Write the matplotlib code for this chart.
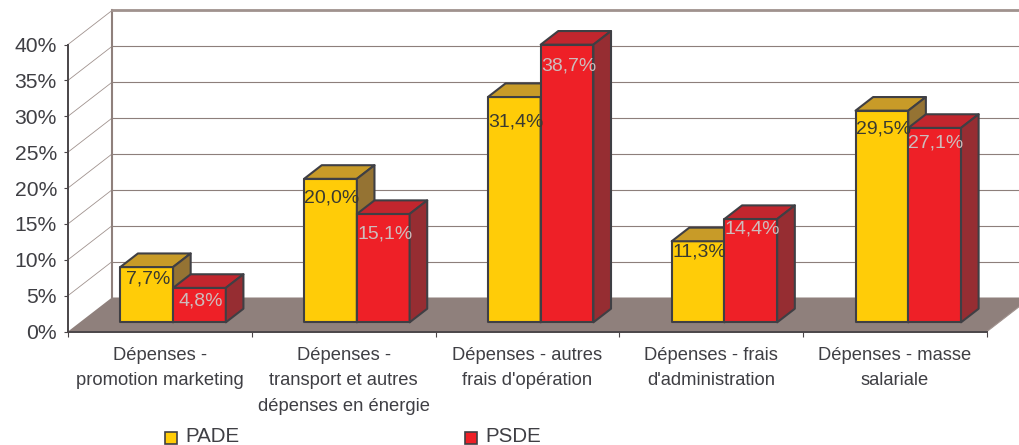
import matplotlib
matplotlib.use("Agg")
import matplotlib.pyplot as plt
from matplotlib.patches import Polygon, Rectangle

plt.rcParams["font.family"] = ["Liberation Sans", "DejaVu Sans"]

categories = [
    "Dépenses -\npromotion marketing",
    "Dépenses -\ntransport et autres\ndépenses en énergie",
    "Dépenses - autres\nfrais d'opération",
    "Dépenses - frais\nd'administration",
    "Dépenses - masse\nsalariale",
]
pade = [7.7, 20.0, 31.4, 11.3, 29.5]
psde = [4.8, 15.1, 38.7, 14.4, 27.1]
yticks = [0, 5, 10, 15, 20, 25, 30, 35, 40]
# how far each value label sits below its bar top, pixels
pade_drop = [12, 19, 24.5, 11, 18]
psde_drop = [13, 20, 21, 10, 15]

W, H = 1020, 445
DX, DY = 0.2394, 4.74  # shift of the back wall, in data units
BAR_W = 0.287
X0 = 0.22
D0, D1 = 0.27, 0.67
TEXT = "#3f3f44"
EDGE = "#3f3f44"
WALL = "#8f807c"

fig = plt.figure(figsize=(W / 100, H / 100), dpi=100)
ax = fig.add_axes([68 / W, (H - 331.5) / H, 919 / W, 287 / H])


def proj(x, v, d):
    return (x + d * DX, v + d * DY)


def face(points, color, z):
    ax.add_patch(Polygon([proj(*p) for p in points], closed=True, facecolor=color,
                         edgecolor=EDGE, lw=1.5, joinstyle="round", clip_on=False, zorder=z))


def wall_line(pts, color, lw, z=1):
    xy = [proj(*p) for p in pts]
    ax.plot([p[0] for p in xy], [p[1] for p in xy], color=color, lw=lw, clip_on=False, zorder=z)


def bar3d(x, val, front, top, side, z):
    face([(x, 0, D0), (x + BAR_W, 0, D0), (x + BAR_W, val, D0), (x, val, D0)], front, z)
    face([(x, val, D0), (x + BAR_W, val, D0), (x + BAR_W, val, D1), (x, val, D1)], top, z)
    face([(x + BAR_W, 0, D0), (x + BAR_W, 0, D1), (x + BAR_W, val, D1), (x + BAR_W, val, D0)], side, z)


def value_label(x, val, drop, color):
    px, py = proj(x, val, D0)
    ax.annotate(f"{val:.1f}%".replace(".", ","), (px, py), xytext=(1, -drop * 0.72),
                textcoords="offset points", ha="center", va="center",
                fontsize=14, color=color, zorder=6, annotation_clip=False)


# floor and walls
ax.add_patch(Polygon([proj(0, 0, 0), proj(5, 0, 0), proj(5, 0, 1), proj(0, 0, 1)],
                     closed=True, facecolor=WALL, edgecolor="none", clip_on=False, zorder=1))
for t in yticks[1:]:
    c = "#b5aaa6" if t % 2 == 0 and t % 10 else "#8d7f7b"
    wall_line([(0, t, 1), (5, t, 1)], c, 0.8)
    wall_line([(0, t, 0), (0, t, 1)], "#a0928e", 0.6)
wall_line([(0, 0, 1), (0, 40, 1)], WALL, 1.5, 2)
wall_line([(0, 40, 1), (5, 40, 1)], "#a0928e", 2, 2)
wall_line([(5, 0, 0), (5, 0, 1)], "#a0928e", 0.8, 2)

for i in range(len(categories)):
    x = i + X0
    bar3d(x, pade[i], "#ffcc08", "#c89b28", "#957333", 3)
    bar3d(x + BAR_W, psde[i], "#ee2027", "#c2262e", "#962d32", 4)
    value_label(x + BAR_W / 2, pade[i], pade_drop[i], "#3a3a30")
    value_label(x + BAR_W * 1.5, psde[i], psde_drop[i], "#cdbcbc")

ax.set_xlim(0, 5)
ax.set_ylim(0, 40)
ax.patch.set_visible(False)
for s in ["top", "right"]:
    ax.spines[s].set_visible(False)
for s in ["left", "bottom"]:
    ax.spines[s].set_color("#4a4548")
    ax.spines[s].set_linewidth(1.4)
    ax.spines[s].set_zorder(5)

ax.set_yticks(yticks)
ax.set_yticklabels([f"{t}%" for t in yticks], fontsize=15.2, color=TEXT)
ax.tick_params(axis="y", length=3, width=0.8, color="#4a4548", pad=5)
ax.set_xticks(range(6))
ax.set_xticklabels([])
ax.tick_params(axis="x", which="major", length=3.5, width=0.8, color="#4a4548")
ax.set_xticks([i + 0.5 for i in range(5)], minor=True)
ax.set_xticklabels(categories, minor=True, fontsize=13.2, color=TEXT, linespacing=1.66)
ax.tick_params(axis="x", which="minor", length=0, pad=11)

# legend
for label, color, mx, tx in [("PADE", "#ffcc08", 165, 185), ("PSDE", "#ee2027", 465, 485)]:
    fig.add_artist(Rectangle((mx / W, (H - 444) / H), 12 / W, 12.5 / H, transform=fig.transFigure,
                             facecolor=color, edgecolor=EDGE, lw=1.2))
    fig.text(tx / W, (H - 437) / H, label, fontsize=14.8, color=TEXT, ha="left", va="center")

fig.savefig("out.png", dpi=100)
